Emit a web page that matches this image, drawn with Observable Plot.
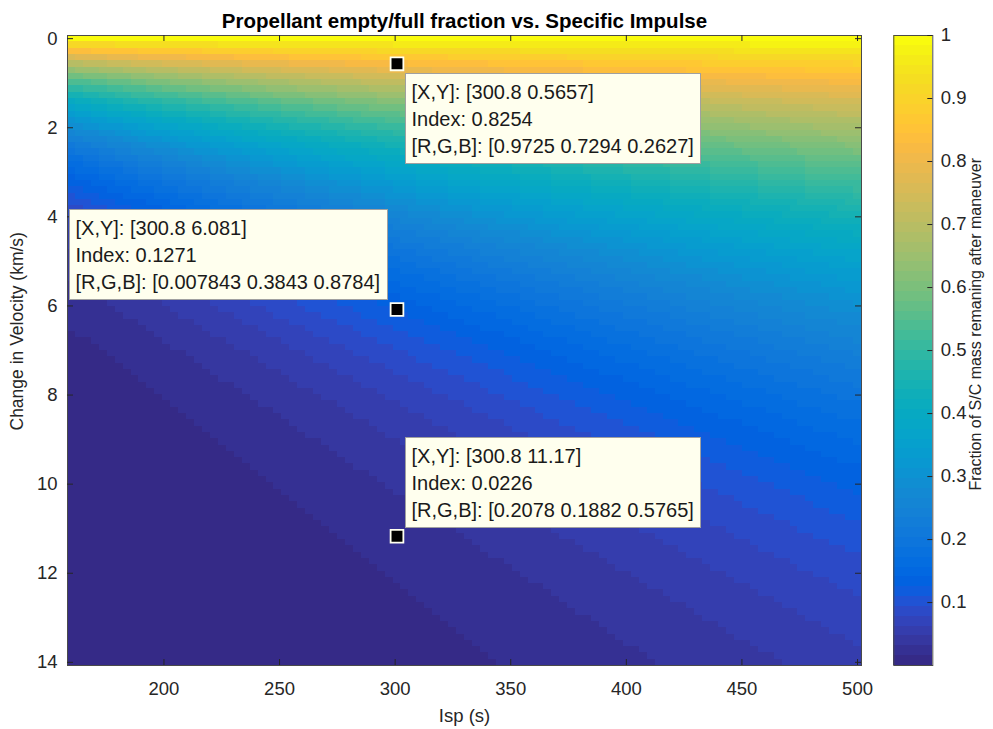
<!DOCTYPE html>
<html>
<head>
<meta charset="utf-8">
<script src="https://cdn.jsdelivr.net/npm/d3@7"></script>
<script src="https://cdn.jsdelivr.net/npm/@observablehq/plot@0.6"></script>
<style>
  html, body { margin: 0; padding: 0; background: #ffffff; }
  #wrap { position: relative; width: 993px; height: 729px; overflow: hidden; font-family: "Liberation Sans", Arial, sans-serif; }
  #wrap svg { position: absolute; top: 0; }
</style>
</head>
<body>
<div id="wrap"></div>
<script>
// ---------------- data ----------------
// Grid of the image (100 x 100 samples), read from the axes and the data tips
const ispRange = [160, 500];          // Isp (s)
const dvRange = [0, 14];              // change in velocity (km/s)
const gridSize = 100;
const g0 = 9.8;                       // m/s^2 (matches the data-tip values)

// Data tips shown on the chart
const tipIsp = [300.8, 300.8, 300.8];
const tipDv = [0.5657, 6.081, 11.17];
const tipIndex = [0.8254, 0.1271, 0.0226];
const tipRGB = [
  [0.9725, 0.7294, 0.2627],
  [0.007843, 0.3843, 0.8784],
  [0.2078, 0.1882, 0.5765]
];

// Tick labels
const xTicks = [200, 250, 300, 350, 400, 450, 500];
const yTicks = [0, 2, 4, 6, 8, 10, 12, 14];
const cbTicks = [0.1, 0.2, 0.3, 0.4, 0.5, 0.6, 0.7, 0.8, 0.9, 1];

// MATLAB parula, 64 entries
const parula64 = [
  "#352a87","#353093","#3637a0","#353dad","#3243ba","#2c4ac7","#2053d4","#0f5cdd",
  "#0262e0","#0268e1","#046de0","#0871de","#0d75dc","#1079da","#127dd8","#1481d6",
  "#1485d4","#1389d3","#108ed2","#0c93d2","#0998d1","#079ccf","#06a0cd","#06a4ca",
  "#06a7c6","#07a9c2","#0aacbe","#0faeb9","#15b1b4","#1db3af","#25b5a9","#2eb7a4",
  "#38b99e","#42bb98","#4dbc92","#59bd8c","#65be86","#71bf80","#7cbf7b","#87bf77",
  "#92bf73","#9cbf6f","#a5be6b","#aebe67","#b7bd64","#c0bc60","#c8bc5d","#d1bb59",
  "#d9ba56","#e1b952","#e9b94e","#f1b94a","#f8ba43","#fdbe3d","#ffc337","#fec832",
  "#fcce2e","#fad32a","#f7d826","#f5de21","#f5e41d","#f5eb18","#f6f313","#f9fb0e"
];

// ---------------- derived tables ----------------
const dIsp = (ispRange[1] - ispRange[0]) / (gridSize - 1);
const dDv = (dvRange[1] - dvRange[0]) / (gridSize - 1);
const ispValues = d3.range(gridSize).map(i => ispRange[0] + i * dIsp);
const dvValues = d3.range(gridSize).map(j => dvRange[0] + j * dDv);
// rocket equation: fraction of mass remaining = exp(-dv / (g0 * Isp))
const cells = [];
for (const dv of dvValues) for (const isp of ispValues)
  cells.push({isp, dv, frac: Math.exp(-dv * 1000 / (g0 * isp))});
const cmin = d3.min(cells, d => d.frac);
const cmax = d3.max(cells, d => d.frac);

const xDomain = [ispRange[0] - dIsp / 2, ispRange[1] + dIsp / 2];
const yDomain = [dvRange[0] - dDv / 2, dvRange[1] + dDv / 2];

const colorScale = {type: "quantize", domain: [cmin, cmax], range: parula64};

const tipLines = tipIsp.map((x, i) => [
  `[X,Y]: [${x} ${tipDv[i]}]`,
  `Index: ${tipIndex[i]}`,
  `[R,G,B]: [${tipRGB[i].join(" ")}]`
]);
const tipPoints = tipIsp.map((x, i) => ({x, y: tipDv[i]}));

// ---------------- layout ----------------
const FONT = "'Liberation Sans', Arial, Helvetica, sans-serif";
const AX = "#262626";
const TICK_FS = 18.5;
const mainW = 880, H = 729;
const mL = 67, mR = 19, mT = 35, mB = 64;
const frameH = H - mT - mB, frameW = mainW - mL - mR;
const tick = 6;

// data-tip box geometry (pixels)
const TIP_FS = 20, TIP_PAD = 6.5, TIP_H = 90, TIP_BASE = 26, TIP_STEP = 27;
const measureCtx = document.createElement("canvas").getContext("2d");
measureCtx.font = `${TIP_FS}px ${FONT}`;
const measure = s => measureCtx.measureText(s).width;

function dataTip(i, corner, ox, oy) {
  return (index, scales) => {
    const px = scales.x(tipIsp[i]), py = scales.y(tipDv[i]);
    const lines = tipLines[i];
    const w = Math.round(d3.max(lines, measure) + 2 * TIP_PAD);
    const left = Math.round(corner.endsWith("left") ? px + ox : px + ox - w);
    const top = Math.round(corner.startsWith("top") ? py + oy : py + oy - TIP_H);
    const g = d3.create("svg:g")
      .attr("font-family", FONT).attr("font-size", TIP_FS)
      .attr("text-anchor", "start");
    g.append("rect")
      .attr("x", left + 0.5).attr("y", top + 0.5)
      .attr("width", w).attr("height", TIP_H)
      .attr("fill", "#ffffee").attr("stroke", "#a0a0a0").attr("stroke-width", 1);
    lines.forEach((t, k) => {
      g.append("text")
        .attr("x", left + TIP_PAD).attr("y", top + TIP_BASE + k * TIP_STEP)
        .attr("text-anchor", "start")
        .attr("fill", "#1a1a1a")
        .text(t);
    });
    return g.node();
  };
}

const main = Plot.plot({
  width: mainW, height: H,
  marginLeft: mL, marginRight: mR, marginTop: mT, marginBottom: mB,
  style: {fontFamily: FONT, fontSize: `${TICK_FS}px`, color: "#000", background: "transparent", overflow: "visible"},
  x: {domain: xDomain},
  y: {domain: yDomain, reverse: true},
  color: colorScale,
  marks: [
    Plot.rect(cells, {
      x1: d => d.isp - dIsp / 2, x2: d => d.isp + dIsp / 2,
      y1: d => d.dv - dDv / 2, y2: d => d.dv + dDv / 2,
      fill: "frac", shapeRendering: "crispEdges"
    }),
    Plot.frame({stroke: "#4a4a4a", strokeWidth: 1}),
    // inward ticks on all four sides (MATLAB box style)
    Plot.tickX(xTicks, {x: d => d, stroke: AX, insetTop: frameH - tick}),
    Plot.tickX(xTicks, {x: d => d, stroke: AX, insetBottom: frameH - tick}),
    Plot.tickY(yTicks, {y: d => d, stroke: AX, insetRight: frameW - tick}),
    Plot.tickY(yTicks, {y: d => d, stroke: AX, insetLeft: frameW - tick}),
    Plot.axisX({ticks: xTicks, tickSize: 0, tickPadding: 16, label: null, color: AX, tickFormat: d => `${d}`}),
    Plot.axisY({ticks: yTicks, tickSize: 0, tickPadding: 10, label: null, color: AX, tickFormat: d => `${d}`}),
    // titles
    Plot.text(["Propellant empty/full fraction vs. Specific Impulse"], {
      frameAnchor: "top", dy: -8, lineAnchor: "bottom", fontWeight: "bold", fontSize: 20.5, fill: "#000"
    }),
    Plot.text(["Isp (s)"], {frameAnchor: "bottom", dy: 51, lineAnchor: "middle", fill: AX}),
    Plot.text(["Change in Velocity (km/s)"], {
      frameAnchor: "left", dx: -50, dy: 80, rotate: -90, textAnchor: "start", lineAnchor: "middle",
      fontSize: 17.5, fill: AX
    }),
    // data tips
    dataTip(0, "top-left", 9, 10),
    dataTip(1, "bottom-right", -9, -10),
    dataTip(2, "bottom-left", 9, -9),
    Plot.dot(tipPoints, {x: "x", y: "y", symbol: "square", r: 7.2, fill: "#000", stroke: "#fffff0", strokeWidth: 1.8})
  ]
});
main.style.left = "0px";

// ---------------- colorbar ----------------
const cbLeft = 870, cbW = 123;
const cbFrameL = 893.3 - cbLeft, cbFrameR = 932.3 - cbLeft;
const levels = parula64.map((c, i) => {
  const lo = cmin + i * (cmax - cmin) / parula64.length;
  const hi = cmin + (i + 1) * (cmax - cmin) / parula64.length;
  return {lo, hi, mid: (lo + hi) / 2};
});
const cbFrameW = cbFrameR - cbFrameL;

const bar = Plot.plot({
  width: cbW, height: H,
  marginLeft: cbFrameL, marginRight: cbW - cbFrameR, marginTop: mT, marginBottom: mB,
  style: {fontFamily: FONT, fontSize: `${TICK_FS}px`, color: "#000", background: "transparent", overflow: "visible"},
  x: {domain: [0, 1], axis: null},
  y: {domain: [cmin, cmax], axis: null},
  color: colorScale,
  marks: [
    Plot.rect(levels, {x1: 0, x2: 1, y1: "lo", y2: "hi", fill: "mid", shapeRendering: "crispEdges"}),
    Plot.frame({stroke: "#4a4a4a", strokeWidth: 1}),
    Plot.tickY(cbTicks, {y: d => d, stroke: AX, insetLeft: cbFrameW - 5}),
    Plot.axisY({anchor: "right", ticks: cbTicks, tickSize: 0, tickPadding: 8, label: null, color: AX, tickFormat: d => `${d}`}),
    Plot.text(["Fraction of S/C mass remaning after maneuver"], {
      frameAnchor: "right", dx: 43, dy: 140, rotate: -90, textAnchor: "start", lineAnchor: "middle",
      fontSize: 16, fill: AX
    })
  ]
});
bar.style.left = cbLeft + "px";

const wrap = document.getElementById("wrap");
wrap.appendChild(main);
wrap.appendChild(bar);
</script>
</body>
</html>
